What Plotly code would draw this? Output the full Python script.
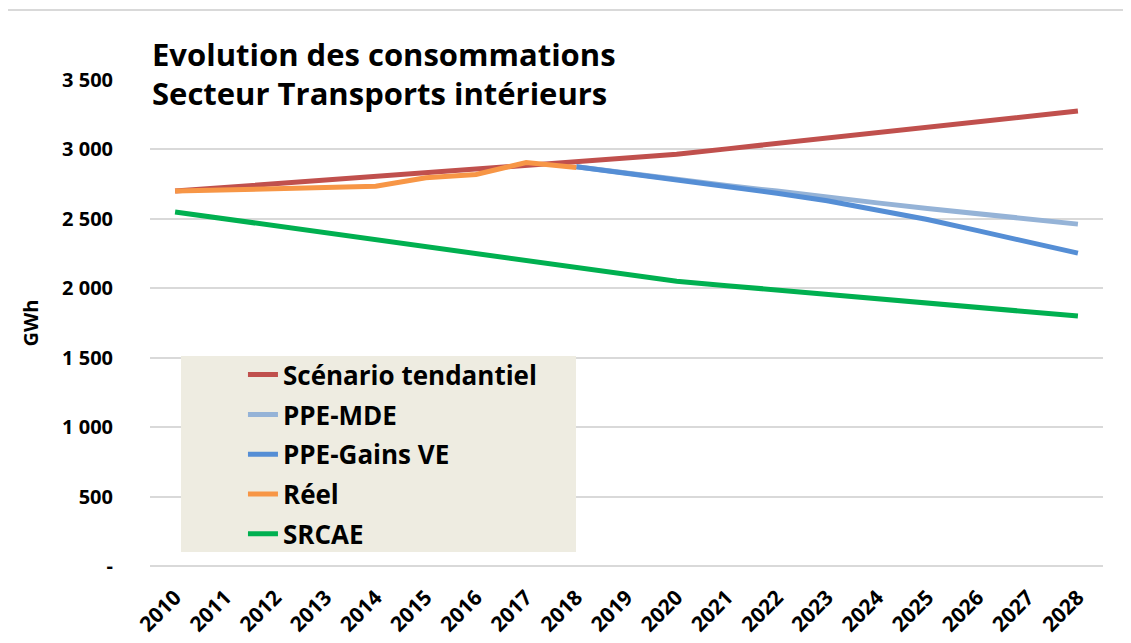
import plotly.graph_objects as go

years = [str(y) for y in range(2010, 2029)]

tendantiel = [2700, 2727, 2753, 2780, 2806, 2833, 2859, 2886, 2912, 2939, 2965,
              3004, 3043, 3082, 3121, 3160, 3198, 3237, 3276]
ppe_mde_years = [str(y) for y in range(2018, 2029)]
ppe_mde = [2875, 2828, 2780, 2740, 2700, 2655, 2615, 2575, 2535, 2498, 2462]
ppe_ve_years = [str(y) for y in range(2018, 2029)]
ppe_ve = [2875, 2828, 2780, 2735, 2685, 2630, 2565, 2495, 2415, 2335, 2253]
reel_years = [str(y) for y in range(2010, 2019)]
reel = [2700, 2709, 2718, 2727, 2735, 2796, 2820, 2905, 2870]
srcae = [2550, 2500, 2450, 2400, 2350, 2300, 2250, 2200, 2150, 2100, 2050,
         2019, 1988, 1956, 1925, 1894, 1863, 1831, 1800]

ytick_vals = [0, 500, 1000, 1500, 2000, 2500, 3000, 3500]
ytick_text = ["-", "500", "1 000", "1 500", "2 000", "2 500", "3 000", "3 500"]

FONT = "Open Sans"
series = [
    ("Scénario tendantiel", years, tendantiel, "#C0504D"),
    ("PPE-MDE", ppe_mde_years, ppe_mde, "#95B3D7"),
    ("PPE-Gains VE", ppe_ve_years, ppe_ve, "#558ED5"),
    ("Réel", reel_years, reel, "#F79646"),
    ("SRCAE", years, srcae, "#00B050"),
]

fig = go.Figure()
for i, (name, xs, ys, col) in enumerate(series):
    fig.add_trace(go.Scatter(x=xs, y=ys, name=name, mode="lines",
                             legendgroup=f"g{i}",
                             line=dict(color=col, width=5)))

fig.update_layout(
    width=1131, height=643,
    margin=dict(l=142, r=36, t=72, b=85),
    paper_bgcolor="white", plot_bgcolor="white",
    font=dict(family=FONT, color="black"),
    showlegend=True,
    legend=dict(
        x=0.0325, y=0.442, xanchor="left", yanchor="top",
        bgcolor="rgba(0,0,0,0)", borderwidth=0,
        font=dict(family=FONT, size=26, color="black", weight="bold"),
        tracegroupgap=3, traceorder="grouped",
        indentation=62,
    ),
    xaxis=dict(
        type="category", categoryorder="array", categoryarray=years,
        range=[-0.5, 18.5], showgrid=False, zeroline=False, showline=False,
        tickangle=-45, ticks="", automargin=False, ticklabelstandoff=14,
        tickfont=dict(family=FONT, size=21, color="black", weight="bold"),
    ),
    yaxis=dict(
        range=[0, 3500], tickvals=ytick_vals, ticktext=ytick_text,
        showgrid=True, gridcolor="#D9D9D9", gridwidth=1.5,
        zeroline=True, zerolinecolor="#D9D9D9", zerolinewidth=1.5,
        showline=False, ticks="", ticklabelstandoff=36, automargin=False,
        tickfont=dict(family=FONT, size=20, color="black", weight="bold"),
        title=dict(text="GWh", standoff=18,
                   font=dict(family=FONT, size=20, color="black", weight="bold")),
    ),
)

# chart frame
fig.add_shape(type="rect", xref="paper", yref="paper",
              x0=-0.151, x1=1.2, y0=-0.3, y1=1.144,
              line=dict(color="#D9D9D9", width=2), layer="below")

# legend background box
fig.add_shape(type="rect", xref="paper", yref="paper",
              x0=0.0325, x1=0.447, y0=0.0288, y1=0.432,
              fillcolor="#EEECE1", line=dict(width=0), layer="above")

fig.add_annotation(text="<b>Evolution des consommations</b>", xref="paper", yref="paper",
                   x=0.0, y=1.053, xanchor="left", yanchor="middle", showarrow=False,
                   font=dict(family=FONT, size=31, color="black"))
fig.add_annotation(text="<b>Secteur Transports intérieurs</b>", xref="paper", yref="paper",
                   x=0.0, y=0.973, xanchor="left", yanchor="middle", showarrow=False,
                   font=dict(family=FONT, size=31, color="black"))

fig.write_html("out.html")
